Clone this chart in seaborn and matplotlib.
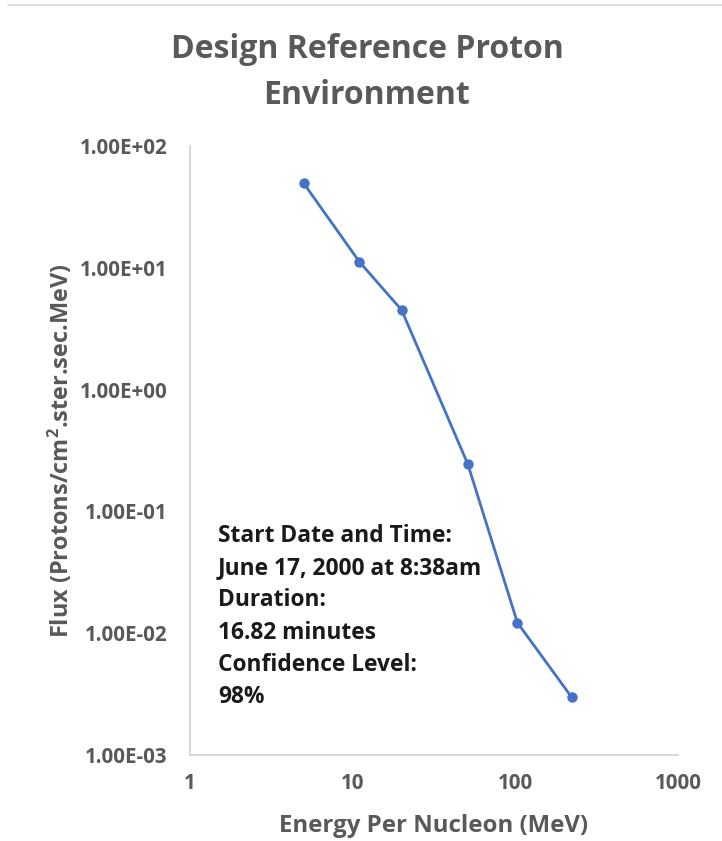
import matplotlib
matplotlib.use("Agg")
import matplotlib.pyplot as plt
from matplotlib.lines import Line2D
import seaborn as sns
import pandas as pd

# Design reference proton spectrum
energy_mev = [5.0, 11.0, 20.0, 51.0, 103.0, 222.0]
flux = [49.4, 11.2, 4.5, 0.245, 0.0122, 0.00298]

x_ticks = [1, 10, 100, 1000]
x_tick_labels = ["1", "10", "100", "1000"]
y_ticks = [1e-3, 1e-2, 1e-1, 1e0, 1e1, 1e2]
y_tick_labels = ["1.00E-03", "1.00E-02", "1.00E-01", "1.00E+00", "1.00E+01", "1.00E+02"]

title = "Design Reference Proton\nEnvironment"
x_label = "Energy Per Nucleon (MeV)"
y_label = "Flux (Protons/cm$^2$.ster.sec.MeV)"
note_lines = [
    "Start Date and Time:",
    "June 17, 2000 at 8:38am",
    "Duration:",
    "16.82 minutes",
    "Confidence Level:",
    "98%",
]

FONT = "Open Sans"
sns.set_theme(style="white")
plt.rcParams["font.family"] = [FONT, "DejaVu Sans"]
plt.rcParams["mathtext.fontset"] = "custom"
plt.rcParams["mathtext.rm"] = f"{FONT}:bold"
plt.rcParams["mathtext.it"] = f"{FONT}:bold"
plt.rcParams["mathtext.bf"] = f"{FONT}:bold"

W, H = 722, 841
fig = plt.figure(figsize=(W / 100, H / 100), dpi=100)
ax = fig.add_axes([190 / W, 1 - 755 / H, (678 - 190) / W, (755 - 146) / H])

df = pd.DataFrame({"energy": energy_mev, "flux": flux})
sns.lineplot(data=df, x="energy", y="flux", ax=ax, color="#4472C4",
             linewidth=2.0, marker="o", markersize=7.5,
             markeredgewidth=0, markeredgecolor="#4472C4")

ax.set_xscale("log")
ax.set_yscale("log")
ax.set_xlim(1, 1000)
ax.set_ylim(1e-3, 1e2)
ax.set_xticks(x_ticks)
ax.set_xticklabels(x_tick_labels)
ax.set_yticks(y_ticks)
ax.set_yticklabels(y_tick_labels)
ax.minorticks_off()

grey = "#595959"
ax.tick_params(axis="both", which="both", length=0, colors=grey, labelsize=14.8)
ax.tick_params(axis="x", pad=13)
ax.tick_params(axis="y", pad=16)
for lbl in ax.get_xticklabels() + ax.get_yticklabels():
    lbl.set_fontweight("bold")

for side in ["top", "right"]:
    ax.spines[side].set_visible(False)
for side in ["left", "bottom"]:
    ax.spines[side].set_visible(True)
    ax.spines[side].set_color("#d0d0d0")
    ax.spines[side].set_linewidth(1.2)
ax.grid(False)

ax.set_xlabel(x_label, fontsize=17.3, fontweight="bold", color=grey, labelpad=14)
ax.set_ylabel(y_label, fontsize=16.9, fontweight="bold", color=grey, labelpad=4)

fig.text(367 / W, 1 - 33 / H, title, ha="center", va="top",
         fontsize=23, fontweight="bold", color=grey, linespacing=1.52)

ax.text(28 / 488, (755 - 524) / 609, "\n".join(note_lines), transform=ax.transAxes,
        ha="left", va="top", fontsize=16.4, fontweight="bold", color="#1a1a1a",
        linespacing=1.455)

# thin frame line along the top edge
fig.add_artist(Line2D([8 / W, 1], [1 - 5 / H, 1 - 5 / H], transform=fig.transFigure,
                      color="#d9d9d9", linewidth=1.2))

fig.savefig("out.png", dpi=100)
